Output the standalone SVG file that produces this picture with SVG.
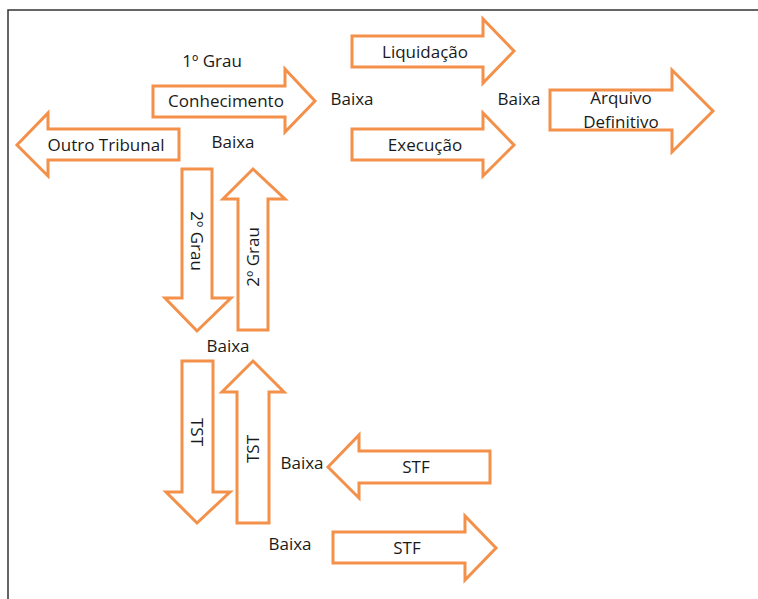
<svg xmlns="http://www.w3.org/2000/svg" width="758" height="599" viewBox="0 0 758 599">
<style>
.arrow{fill:#ffffff;stroke:#F3904A;stroke-width:3;stroke-linejoin:miter}
.t{font-family:"Open Sans","Noto Sans",sans-serif;font-size:17px;fill:#1a1a1a;text-anchor:middle}
</style>
<rect x="0" y="0" width="758" height="599" fill="#ffffff"/>
<path d="M8,599 L8,10 L758,10" fill="none" stroke="#333333" stroke-width="1.5"/>
<g id="labels">
<text class="t" x="212" y="67">1º Grau</text>
<text class="t" x="352" y="105">Baixa</text>
<text class="t" x="233" y="148">Baixa</text>
<text class="t" x="519" y="105">Baixa</text>
<text class="t" x="228" y="352">Baixa</text>
<text class="t" x="302" y="469">Baixa</text>
<text class="t" x="290" y="550">Baixa</text>
</g>
<g id="connectors">
<g id="conhecimento"><polygon class="arrow" points="153,86 285,86 285,69 315,101 285,132 285,117 153,117"/><text class="t" x="226" y="107">Conhecimento</text></g>
<g id="outro-tribunal"><polygon class="arrow" points="179,129 48,129 48,113 17,145 48,176 48,160 179,160"/><text class="t" x="106" y="151">Outro Tribunal</text></g>
<g id="liquidacao"><polygon class="arrow" points="352,36 483,36 483,19 514,51 483,83 483,67 352,67"/><text class="t" x="425" y="58">Liquidação</text></g>
<g id="execucao"><polygon class="arrow" points="352,129 483,129 483,113 514,145 483,176 483,160 352,160"/><text class="t" x="425" y="151">Execução</text></g>
<g id="arquivo"><polygon class="arrow" points="550,90 672,90 672,70 713,111 672,152 672,130 550,130"/><text class="t" x="621" y="104">Arquivo</text><text class="t" x="621" y="128">Definitivo</text></g>
<g id="grau2-down"><polygon class="arrow" points="182,169 212,169 212,298 231,298 197,331 165,298 182,298"/><text class="t" transform="translate(197,241) rotate(90)" x="0" y="6">2º Grau</text></g>
<g id="grau2-up"><polygon class="arrow" points="253,169 285,199 268,199 268,330 238,330 238,199 223,199"/><text class="t" transform="translate(253,257) rotate(-90)" x="0" y="6">2º Grau</text></g>
<g id="tst-down"><polygon class="arrow" points="182,361 213,361 213,492 230,492 197,523 166,492 182,492"/><text class="t" transform="translate(197,432) rotate(90)" x="0" y="6">TST</text></g>
<g id="tst-up"><polygon class="arrow" points="253,361 284,392 269,392 269,523 237,523 237,392 222,392"/><text class="t" transform="translate(253,449) rotate(-90)" x="0" y="6">TST</text></g>
<g id="stf-left"><polygon class="arrow" points="328,467 359,435 359,451 490,451 490,483 359,483 359,498"/><text class="t" x="416" y="473">STF</text></g>
<g id="stf-right"><polygon class="arrow" points="333,532 465,532 465,516 496,548 465,580 465,563 333,563"/><text class="t" x="407" y="554">STF</text></g>
</g>
</svg>
